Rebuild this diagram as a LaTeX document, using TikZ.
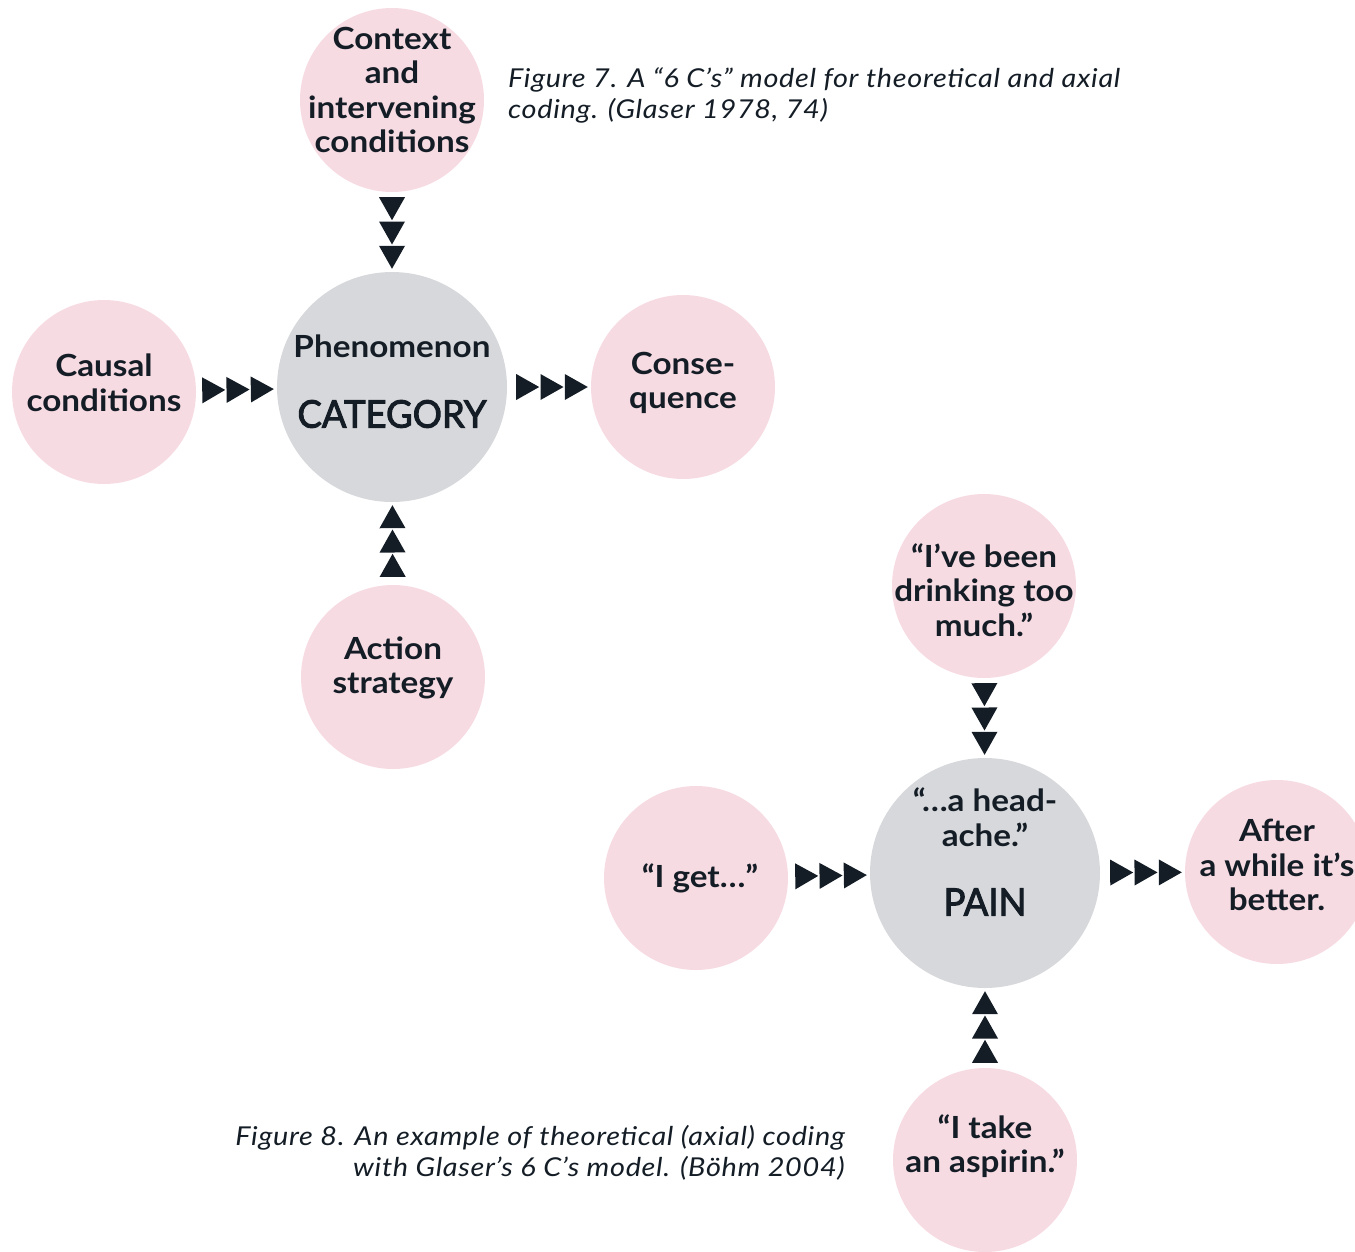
\documentclass[tikz,border=0pt]{standalone}
\usepackage{fontspec}
\setmainfont{Lato}
\newfontfamily\labelfont[FakeStretch=1.09]{Lato}
\newfontfamily\headfont[FakeStretch=0.96, FakeBold=2.5]{Lato}
\newfontfamily\notefont[FakeStretch=1.11, LetterSpace=2.6]{Lato}
\usetikzlibrary{decorations.markings,calc}

\definecolor{bubble}{HTML}{F7DBE2}
\definecolor{core}{HTML}{D7D8DB}
\definecolor{ink}{HTML}{141D26}

\tikzset{
  pinkball/.style={circle, fill=bubble, minimum size=184pt, inner sep=0pt},
  greyball/.style={circle, fill=core, minimum size=230pt, inner sep=0pt},
  lbl/.style={align=center, text=ink, font=\labelfont\fontsize{30.5}{34.5}\selectfont\bfseries, inner sep=0pt},
  biglbl/.style={align=center, text=ink, font=\headfont\fontsize{38}{42}\selectfont, inner sep=0pt},
  caption/.style={text=ink, font=\notefont\fontsize{26}{31}\selectfont\itshape, inner sep=0pt},
  % three filled triangles stacked against the end of the path
  chain/.style={postaction={decorate}, decoration={markings,
    mark=at position -3pt with {
      \fill[ink] (0,0) -- (-23pt,13pt) -- (-23pt,-13pt) -- cycle;
      \fill[ink] (-24.3pt,0) -- (-47.3pt,13pt) -- (-47.3pt,-13pt) -- cycle;
      \fill[ink] (-48.6pt,0) -- (-71.6pt,13pt) -- (-71.6pt,-13pt) -- cycle;
    }}}
}

\begin{document}
\begin{tikzpicture}[x=1pt, y=-1pt]
  \clip (0,0) rectangle (1355,1251);
  \useasboundingbox (0,0) rectangle (1355,1251);

  % ---- the 6 C's model ----
  \node[greyball] (cat) at (392,387) {};
  \node[pinkball] (ctx) at (392,100) {};
  \node[pinkball] (cause) at (104,392) {};
  \node[pinkball] (cons) at (683,387) {};
  \node[pinkball] (act) at (393,677) {};

  \node[lbl] (ctx-t) at (392,90) {Context\\and\\intervening\\conditions};
  \node[lbl] (cat-t) at (392,346) {Phenomenon};
  \node[biglbl] (cat-c) at (392,414) {CATEGORY};
  \node[lbl] (cause-t) at (104,383) {Causal\\conditions};
  \node[lbl] (cons-t) at (683,383) {Conse-\\quence};
  \node[lbl] (act-t) at (393,668) {Action\\strategy};

  \path[chain] (ctx) -- (cat);
  \path[chain] (cause) -- (cat);
  \path[chain] (cat) -- (cons);
  \path[chain] (act) -- (cat);

  \node[caption, anchor=west, align=left] (cap7) at (508,95.5)
    {Figure 7. A “6 C’s” model for theoretical and axial\\coding. (Glaser 1978, 74)};

  % ---- worked example ----
  \node[greyball] (pain) at (985,873) {};
  \node[pinkball] (drink) at (984,586) {};
  \node[pinkball] (get) at (696,878) {};
  \node[pinkball] (after) at (1277,872) {};
  \node[pinkball] (asp) at (985,1160) {};

  \node[lbl] (drink-t) at (984,590) {“I’ve been\\drinking too\\much.”};
  \node[lbl] (pain-t) at (985,817) {“…a head-\\ache.”};
  \node[biglbl] (pain-c) at (985,902) {PAIN};
  \node[lbl] (get-t) at (700,878) {“I get…”};
  \node[lbl] (after-t) at (1277,865) {After\\a while it’s\\better.};
  \node[lbl] (asp-t) at (985,1146) {“I take\\an aspirin.”};

  \path[chain] (drink) -- (pain);
  \path[chain] (get) -- (pain);
  \path[chain] (pain) -- (after);
  \path[chain] (asp) -- (pain);

  \node[caption, anchor=east, align=right] (cap8) at (845,1152.5)
    {Figure 8. An example of theoretical (axial) coding\\with Glaser’s 6 C’s model. (Böhm 2004)};
\end{tikzpicture}
\end{document}
